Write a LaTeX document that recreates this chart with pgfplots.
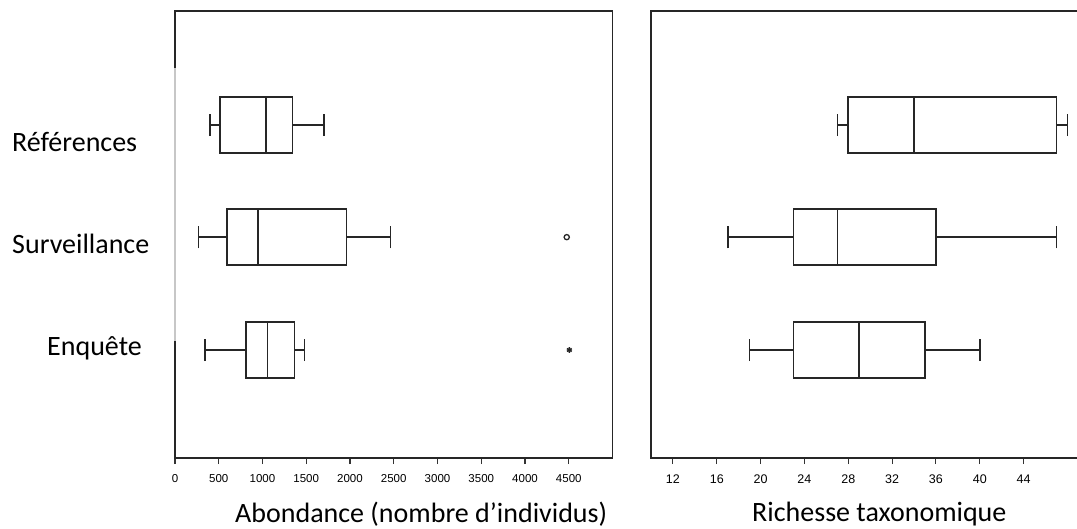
\documentclass[border=0pt]{standalone}
\usepackage{pgfplots}
\pgfplotsset{compat=1.18}
\usepgfplotslibrary{statistics}
\usepackage{fontspec}
\setmainfont{Carlito}
\newfontfamily\arial{Liberation Sans}

\newcommand{\labfont}{\fontsize{28}{33}\selectfont}
\newcommand{\xlabfont}{\fontsize{28}{33}\selectfont}

\pgfplotsset{
  panel/.style={
    scale only axis, anchor=south west, clip=false,
    axis line style={draw=none},
    ytick=\empty, xtick pos=bottom, tick align=outside,
    major tick length=6pt,
    every tick/.style={black!80, line width=1.1pt},
    scaled x ticks=false,
    /pgf/number format/assume math mode=true,
    /pgf/number format/1000 sep={},
    height=447pt, ymin=0.04, ymax=4.013,
  },
  bx/.style={draw=black!85, line width=1.6pt, fill=none, solid},
}
\tikzset{frame/.style={black!85, line width=1.5pt}}

\begin{document}
\begin{tikzpicture}

% abondance
\begin{axis}[panel, at={(175pt,70pt)}, width=437.5pt,
  xmin=0, xmax=5000, xtick={0,500,...,4500},
  xticklabel style={font=\arial\fontsize{11.5}{13}\selectfont, yshift=-7pt}]
\addplot[bx, boxplot prepared={draw position=3, lower whisker=402,
  lower quartile=517, median=1042, upper quartile=1341, upper whisker=1702,
  box extend=0.5, whisker extend=0.2}] coordinates {};
\addplot[bx, mark=o, mark size=2.6pt, mark options={line width=1.3pt},
  boxplot prepared={draw position=2.003, lower whisker=269,
  lower quartile=596, median=946, upper quartile=1961, upper whisker=2463,
  box extend=0.5, whisker extend=0.2}] coordinates {(0,4477)};
\addplot[bx, mark=asterisk, mark size=2.8pt, mark options={line width=1.6pt},
  boxplot prepared={draw position=1, lower whisker=342,
  lower quartile=809, median=1056, upper quartile=1364, upper whisker=1478,
  box extend=0.5, whisker extend=0.2}] coordinates {(0,4507)};
\draw[frame] (axis cs:0,3.507) -- (rel axis cs:0,1) -- (rel axis cs:1,1)
  -- (rel axis cs:1,0) -- (rel axis cs:0,0) -- (axis cs:0,1.08);
\draw[black!22, line width=1.2pt] (axis cs:0,3.507) -- (axis cs:0,1.08);
\end{axis}

% richesse
\begin{axis}[panel, at={(651pt,70pt)}, width=427.4pt,
  xmin=10, xmax=49, xtick={12,16,...,44},
  xticklabel style={font=\arial\fontsize{12.5}{14}\selectfont, yshift=-7pt}]
\addplot[bx, boxplot prepared={draw position=3, lower whisker=27,
  lower quartile=28, median=34, upper quartile=47, upper whisker=48,
  box extend=0.5, whisker extend=0.2}] coordinates {};
\addplot[bx, boxplot prepared={draw position=2.003, lower whisker=17,
  lower quartile=23, median=27, upper quartile=36, upper whisker=47,
  box extend=0.5, whisker extend=0.2}] coordinates {};
\addplot[bx, boxplot prepared={draw position=1, lower whisker=19,
  lower quartile=23, median=29, upper quartile=35, upper whisker=40,
  box extend=0.5, whisker extend=0.2}] coordinates {};
\draw[frame] (rel axis cs:1,1) -- (rel axis cs:0,1) -- (rel axis cs:0,0)
  -- (rel axis cs:1,0);
\end{axis}

\node[anchor=base west, font=\labfont, inner sep=0pt] at (12pt,376pt) {Références};
\node[anchor=base west, font=\labfont, inner sep=0pt] at (12pt,274pt) {Surveillance};
\node[anchor=base west, font=\labfont, inner sep=0pt] at (47pt,172pt) {Enquête};
\node[anchor=base west, font=\xlabfont, inner sep=0pt] at (235pt,6pt) {Abondance (nombre d’individus)};
\node[anchor=base west, font=\xlabfont, inner sep=0pt] at (752pt,6.5pt) {Richesse taxonomique};

\pgfresetboundingbox
\useasboundingbox (0pt,0pt) rectangle (1077pt,528pt);
\end{tikzpicture}
\end{document}
